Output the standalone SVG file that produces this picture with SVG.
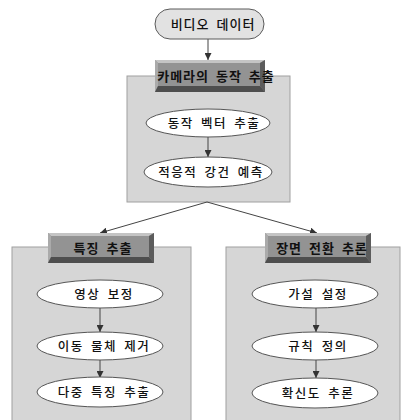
<svg xmlns="http://www.w3.org/2000/svg" width="403" height="420" viewBox="0 0 403 420">
<defs>
<style>
.panel{fill:#d6d6d6;stroke:#a0a0a0;stroke-width:1}
.ell{fill:#ffffff;stroke:#555555;stroke-width:1}
.pill{fill:#e2e2e2;stroke:#5a5a5a;stroke-width:1}
.face{fill:#939393}
.bt{fill:#c4c4c4}
.bl{fill:#aaaaaa}
.br{fill:#5c5c5c}
.bb{fill:#4e4e4e}
.t{font-family:"Noto Sans CJK KR","Noto Sans",sans-serif;font-size:12.5px;fill:#111;text-anchor:middle;letter-spacing:1.5px;word-spacing:3px;font-weight:500}
.h{font-family:"Noto Sans CJK KR","Noto Sans",sans-serif;font-size:13px;fill:#111;text-anchor:middle;letter-spacing:1px;word-spacing:3px;font-weight:bold}
.c{stroke:#444;stroke-width:1;fill:none;marker-end:url(#ah)}
</style>
<marker id="ah" viewBox="0 0 10 10" refX="10" refY="5" markerWidth="7" markerHeight="7" orient="auto" markerUnits="userSpaceOnUse">
<path d="M0,0 L10,5 L0,10 z" fill="#333"/>
</marker>
</defs>
<rect width="403" height="420" fill="#ffffff"/>

<g id="panel-camera"><rect class="panel" x="127" y="76" width="163" height="126"/></g>
<g id="panel-feature"><rect class="panel" x="12" y="247" width="179" height="180"/></g>
<g id="panel-scene"><rect class="panel" x="226" y="247" width="174" height="180"/></g>

<g id="connectors">
<line class="c" x1="208" y1="39" x2="208" y2="60"/>
<line class="c" x1="208" y1="137" x2="208" y2="157"/>
<line class="c" x1="207" y1="202" x2="100" y2="233"/>
<line class="c" x1="207" y1="202" x2="317" y2="233"/>
<line class="c" x1="100" y1="308" x2="100" y2="332"/>
<line class="c" x1="100" y1="360" x2="100" y2="378"/>
<line class="c" x1="316" y1="308" x2="316" y2="332"/>
<line class="c" x1="316" y1="360" x2="316" y2="378"/>
</g>

<g id="video-data">
<rect class="pill" x="155" y="9" width="109" height="30" rx="15"/>
<text class="t" style="font-size:13px;letter-spacing:1px" x="213" y="29">비디오 데이터</text>
</g>

<g id="hdr-camera">
<rect class="face" x="155" y="60" width="110" height="32"/>
<polygon class="bt" points="155,60 265,60 260,63 158,63"/>
<polygon class="bl" points="155,60 158,63 158,86 155,92"/>
<polygon class="br" points="265,60 265,92 260,86 260,63"/>
<polygon class="bb" points="155,92 158,86 260,86 265,92"/>
<text class="h" x="216" y="81">카메라의 동작 추출</text>
</g>

<g id="motion-vector">
<ellipse class="ell" cx="208" cy="123" rx="62" ry="14"/>
<text class="t" x="214" y="127.5">동작 벡터 추출</text>
</g>
<g id="adaptive-predict">
<ellipse class="ell" cx="208" cy="172" rx="64" ry="15"/>
<text class="t" x="211" y="176.5">적응적 강건 예측</text>
</g>

<g id="hdr-feature">
<rect class="face" x="48" y="233" width="106" height="30"/>
<polygon class="bt" points="48,233 154,233 149,236 51,236"/>
<polygon class="bl" points="48,233 51,236 51,257 48,263"/>
<polygon class="br" points="154,233 154,263 149,257 149,236"/>
<polygon class="bb" points="48,263 51,257 149,257 154,263"/>
<text class="h" x="103" y="253">특징 추출</text>
</g>

<g id="img-correct">
<ellipse class="ell" cx="100" cy="294" rx="63" ry="14"/>
<text class="t" x="104" y="298.5">영상 보정</text>
</g>
<g id="moving-remove">
<ellipse class="ell" cx="100" cy="346" rx="63" ry="14"/>
<text class="t" x="104" y="350.5">이동 물체 제거</text>
</g>
<g id="multi-feature">
<ellipse class="ell" cx="100" cy="392" rx="63" ry="15"/>
<text class="t" x="104" y="396.5">다중 특징 추출</text>
</g>

<g id="hdr-scene">
<rect class="face" x="265" y="233" width="106" height="30"/>
<polygon class="bt" points="265,233 371,233 366,236 268,236"/>
<polygon class="bl" points="265,233 268,236 268,257 265,263"/>
<polygon class="br" points="371,233 371,263 366,257 366,236"/>
<polygon class="bb" points="265,263 268,257 366,257 371,263"/>
<text class="h" x="322" y="253">장면 전환 추론</text>
</g>

<g id="hypothesis">
<ellipse class="ell" cx="315" cy="294" rx="63" ry="14"/>
<text class="t" x="318" y="298.5">가설 설정</text>
</g>
<g id="rule-define">
<ellipse class="ell" cx="315" cy="346" rx="63" ry="14"/>
<text class="t" x="318" y="350.5">규칙 정의</text>
</g>
<g id="certainty">
<ellipse class="ell" cx="315" cy="393" rx="63" ry="15"/>
<text class="t" x="318" y="397.5">확신도 추론</text>
</g>
</svg>
